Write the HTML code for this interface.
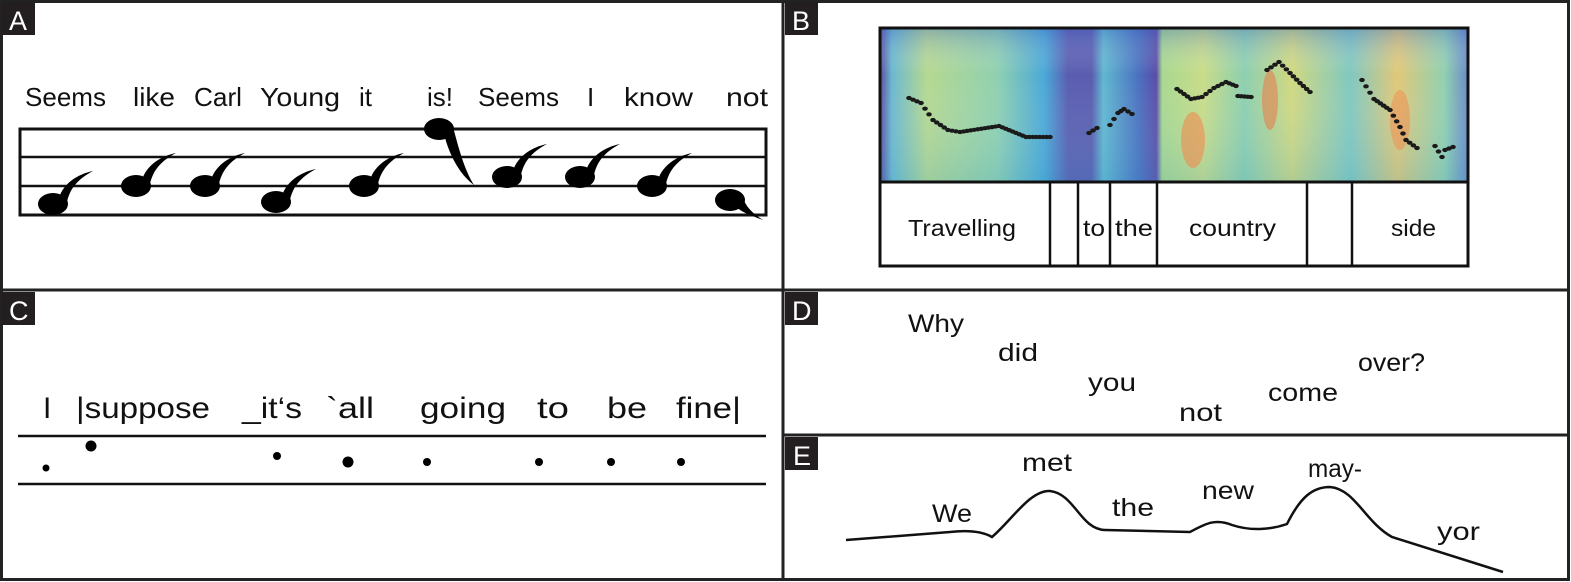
<!DOCTYPE html>
<html><head><meta charset="utf-8"><style>
html,body{margin:0;padding:0;background:#fff}
svg{display:block}
text{font-family:"Liberation Sans",sans-serif;fill:#111}
</style></head><body>
<svg width="1571" height="582" viewBox="0 0 1571 582">
<defs>
<linearGradient id="spec" x1="0" x2="1" y1="0" y2="0">
<stop offset="0" stop-color="#5b4aa0"/><stop offset="0.02" stop-color="#6ab8d0"/>
<stop offset="0.08" stop-color="#b5d890"/><stop offset="0.2" stop-color="#8fd0b0"/>
<stop offset="0.28" stop-color="#4aa8d8"/><stop offset="0.32" stop-color="#5a5cb0"/>
<stop offset="0.36" stop-color="#5a5cb0"/><stop offset="0.38" stop-color="#60b8d0"/>
<stop offset="0.44" stop-color="#4a70c0"/><stop offset="0.47" stop-color="#5a4ca8"/>
<stop offset="0.48" stop-color="#a8d890"/><stop offset="0.55" stop-color="#c8dc88"/>
<stop offset="0.62" stop-color="#8ccfb0"/><stop offset="0.7" stop-color="#d0d880"/>
<stop offset="0.8" stop-color="#80c8c0"/><stop offset="0.88" stop-color="#e0c878"/>
<stop offset="0.96" stop-color="#90d0b0"/><stop offset="1" stop-color="#6a8ac8"/>
</linearGradient>
<linearGradient id="specv" x1="0" x2="0" y1="0" y2="1">
<stop offset="0" stop-color="#3a60c0" stop-opacity="0.35"/><stop offset="0.3" stop-color="#fff" stop-opacity="0"/>
<stop offset="1" stop-color="#3aa0d0" stop-opacity="0.2"/>
</linearGradient>
</defs>
<rect x="1.5" y="1.5" width="1567" height="578" fill="none" stroke="#222" stroke-width="3"/>
<line x1="783" y1="1" x2="783" y2="580" stroke="#222" stroke-width="3"/>
<line x1="1" y1="290" x2="1569" y2="290" stroke="#222" stroke-width="3"/>
<line x1="783" y1="435" x2="1569" y2="435" stroke="#222" stroke-width="3"/>

<g>
<rect x="2" y="2" width="33" height="33" fill="#231f20"/><text x="9" y="30" font-size="27" style="fill:#fff">A</text>
<rect x="785" y="2" width="33" height="33" fill="#231f20"/><text x="792" y="30" font-size="27" style="fill:#fff">B</text>
<rect x="2" y="292" width="33" height="33" fill="#231f20"/><text x="9" y="320" font-size="27" style="fill:#fff">C</text>
<rect x="785" y="292" width="33" height="33" fill="#231f20"/><text x="792" y="320" font-size="27" style="fill:#fff">D</text>
<rect x="785" y="437" width="33" height="33" fill="#231f20"/><text x="793" y="465" font-size="27" style="fill:#fff">E</text>
</g>

<g>
<g font-size="26">
<text x="25" y="106" textLength="81">Seems</text><text x="133" y="106" textLength="42">like</text>
<text x="194" y="106" textLength="48">Carl</text><text x="260" y="106" textLength="80">Young</text>
<text x="359" y="106">it</text><text x="427" y="106">is!</text>
<text x="478" y="106" textLength="81">Seems</text><text x="587" y="106">I</text>
<text x="624" y="106" textLength="69">know</text><text x="726" y="106" textLength="42">not</text>
</g>
<rect x="20" y="129" width="746" height="86" fill="none" stroke="#111" stroke-width="3"/>
<line x1="20" y1="157" x2="766" y2="157" stroke="#111" stroke-width="2.5"/>
<line x1="20" y1="186" x2="766" y2="186" stroke="#111" stroke-width="2.5"/>
<g id="notes"></g>
</g>

<g>
<rect x="880" y="28" width="588" height="154" fill="url(#spec)"/>
<rect x="880" y="28" width="588" height="154" fill="url(#specv)"/>
<ellipse cx="1193" cy="140" rx="12" ry="28" fill="#f08a50" opacity="0.6"/>
<ellipse cx="1270" cy="100" rx="8" ry="30" fill="#f07040" opacity="0.5"/>
<ellipse cx="1400" cy="120" rx="10" ry="30" fill="#f08a50" opacity="0.5"/>
<rect x="880" y="28" width="588" height="154" fill="none" stroke="#111" stroke-width="3"/>
<g id="pitch"></g>
<rect x="880" y="182" width="588" height="84" fill="none" stroke="#111" stroke-width="3"/>
<g stroke="#111" stroke-width="2.5">
<line x1="1050" y1="182" x2="1050" y2="266"/><line x1="1078" y1="182" x2="1078" y2="266"/>
<line x1="1110" y1="182" x2="1110" y2="266"/><line x1="1157" y1="182" x2="1157" y2="266"/>
<line x1="1307" y1="182" x2="1307" y2="266"/><line x1="1352" y1="182" x2="1352" y2="266"/>
</g>
<g font-size="23">
<text x="908" y="236" textLength="108">Travelling</text><text x="1083" y="236" textLength="22">to</text>
<text x="1115" y="236" textLength="38">the</text><text x="1189" y="236" textLength="87">country</text>
<text x="1391" y="236" textLength="45">side</text>
</g>
</g>

<g>
<g font-size="30">
<text x="43" y="418">I</text><text x="76" y="418" textLength="134">|suppose</text>
<text x="242" y="418" textLength="60">_it‘s</text><text x="326" y="418" textLength="48">`all</text>
<text x="420" y="418" textLength="86">going</text><text x="537" y="418" textLength="32">to</text>
<text x="607" y="418" textLength="40">be</text><text x="676" y="418" textLength="65">fine|</text>
</g>
<line x1="18" y1="436" x2="766" y2="436" stroke="#111" stroke-width="2.5"/>
<line x1="18" y1="484" x2="766" y2="484" stroke="#111" stroke-width="2.5"/>
<g id="cdots"></g>
</g>

<g font-size="25">
<text x="908" y="332" textLength="56">Why</text><text x="998" y="361" textLength="40">did</text>
<text x="1088" y="391" textLength="48">you</text><text x="1179" y="421" textLength="43">not</text>
<text x="1268" y="401" textLength="70">come</text><text x="1358" y="371" textLength="67">over?</text>
</g>

<g>
<g font-size="25">
<text x="932" y="522" textLength="40">We</text><text x="1022" y="471" textLength="50">met</text>
<text x="1112" y="516" textLength="42">the</text><text x="1202" y="499" textLength="52">new</text>
<text x="1308" y="477" textLength="54">may-</text><text x="1437" y="540" textLength="43">yor</text>
</g>
<path d="M846,540 L950,532 Q978,529 992,537 C1012,520 1030,490 1050,491 C1075,494 1080,529 1105,530 L1190,532 C1205,524 1215,518 1232,525 C1250,531 1270,530 1287,524 C1300,498 1312,487 1330,487 C1355,489 1365,522 1392,537 L1503,572" fill="none" stroke="#111" stroke-width="2.5"/>
</g>
</svg>
<script>
var ns="http://www.w3.org/2000/svg";
var noteX=[53,136,205,276,364,439,507,580,652,730];
var noteY=[204,186,186,202,186,129,177,177,186,200];
var noteT=[1,1,1,1,1,2,1,1,1,3];
var pitchSegs=[
 [[909,98],[921,103],[933,120],[948,130],[960,132],[999,126],[1026,137],[1050,137]],
 [[1089,133],[1097,128]],[[1110,125],[1118,113],[1124,109],[1132,114]],
 [[1177,89],[1191,99],[1202,97],[1214,88],[1226,82],[1236,86]],[[1238,96],[1251,97]],
 [[1267,70],[1279,62],[1290,73],[1300,83],[1310,92]],
 [[1362,80],[1374,99],[1390,110],[1400,127],[1406,140],[1417,148]],
 [[1435,146],[1442,157]],[[1445,150],[1453,147]]
];
var dotX=[46,91,277,348,427,539,611,681];
var dotY=[468,446,456,462,462,462,462,462];
var dotR=[3.5,5.5,4,5.5,4,4,4,4];

var texts=document.querySelectorAll('text[textLength]');
for(var q=0;q<texts.length;q++){texts[q].setAttribute('lengthAdjust','spacingAndGlyphs');}

var g=document.getElementById('notes');
for(var i=0;i<noteX.length;i++){
  var x=noteX[i],y=noteY[i];
  var e=document.createElementNS(ns,'ellipse');
  e.setAttribute('cx',x);e.setAttribute('cy',y);e.setAttribute('rx',15);e.setAttribute('ry',11);e.setAttribute('fill','#000');
  
  
  g.appendChild(e);
  var p=document.createElementNS(ns,'path'),d;
  if(noteT[i]==1) d='M'+(x+5)+','+(y-2)+' C'+(x+8)+','+(y-20)+' '+(x+25)+','+(y-30)+' '+(x+40)+','+(y-33)+' C'+(x+25)+','+(y-25)+' '+(x+15)+','+(y-15)+' '+(x+13)+','+(y+4)+' Z';
  else if(noteT[i]==2) d='M'+(x+5)+','+(y+5)+' C'+(x+10)+','+(y+25)+' '+(x+20)+','+(y+45)+' '+(x+35)+','+(y+56)+' C'+(x+25)+','+(y+40)+' '+(x+20)+','+(y+20)+' '+(x+14)+','+(y-2)+' Z';
  else d='M'+(x+5)+','+(y+5)+' C'+(x+10)+','+(y+12)+' '+(x+20)+','+(y+15)+' '+(x+33)+','+(y+20)+' C'+(x+22)+','+(y+13)+' '+(x+15)+','+(y+6)+' '+(x+13)+','+(y-3)+' Z';
  p.setAttribute('d',d);p.setAttribute('fill','#000');
  
  
  g.appendChild(p);
}
var pg=document.getElementById('pitch');
pitchSegs.forEach(function(s){
  for(var k=0;k<s.length;k++){
    var n=(k<s.length-1)?Math.max(1,Math.round(Math.abs(s[k+1][0]-s[k][0])/3.5)):1;
    for(var j=0;j<n;j++){
      var t=j/n,px=s[k][0],py=s[k][1];
      if(k<s.length-1){px+=t*(s[k+1][0]-s[k][0]);py+=t*(s[k+1][1]-s[k][1]);}
      var c=document.createElementNS(ns,'ellipse');
      c.setAttribute('cx',px);c.setAttribute('cy',py);c.setAttribute('rx',2.8);c.setAttribute('ry',2.1);c.setAttribute('fill','#1a1a1a');
      
      
      pg.appendChild(c);
    }
  }
});
var cg=document.getElementById('cdots');
for(var i2=0;i2<dotX.length;i2++){
  var c2=document.createElementNS(ns,'circle');
  c2.setAttribute('cx',dotX[i2]);c2.setAttribute('cy',dotY[i2]);c2.setAttribute('r',dotR[i2]);c2.setAttribute('fill','#000');
  
  
  cg.appendChild(c2);
}
</script>
</body></html>
